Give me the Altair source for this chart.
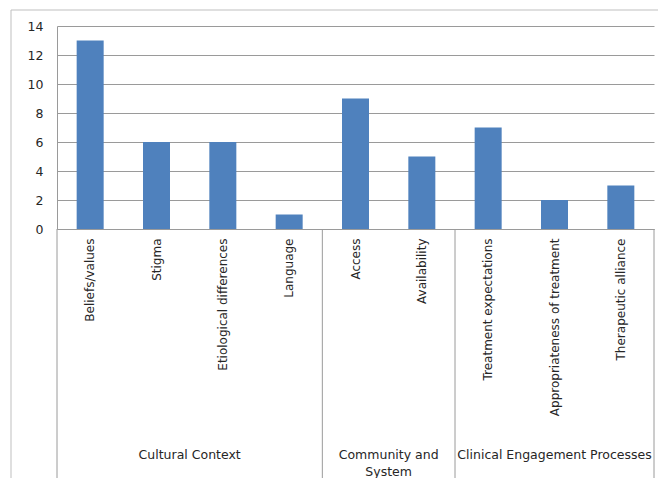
import altair as alt
import pandas as pd

categories = ["Beliefs/values", "Stigma", "Etiological differences", "Language",
              "Access", "Availability", "Treatment expectations",
              "Appropriateness of treatment", "Therapeutic alliance"]
values = [13, 6, 6, 1, 9, 5, 7, 2, 3]
groups = ["Cultural Context"] * 4 + ["Community and System"] * 2 + ["Clinical Engagement Processes"] * 3
y_ticks = [0, 2, 4, 6, 8, 10, 12, 14]

df = pd.DataFrame({"category": categories, "value": values, "group": groups})

W, H = 597, 203
FONT = "DejaVu Sans"
TXT = "#262626"
LINE = "#9A9A9A"

xenc = alt.X("category:N", sort=categories,
             scale=alt.Scale(paddingInner=0, paddingOuter=0),
             axis=alt.Axis(title=None, labelAngle=-90, ticks=False, labelPadding=9,
                           labelFont=FONT, labelFontSize=12, labelColor=TXT,
                           domainColor=LINE, labelLimit=300))

bars = alt.Chart(df).mark_bar(width=alt.RelativeBandSize(0.407), color="#4F81BD").encode(
    x=xenc,
    y=alt.Y("value:Q", scale=alt.Scale(domain=[0, 14]),
            axis=alt.Axis(title=None, values=y_ticks, ticks=False, labelPadding=14,
                          labelFont=FONT, labelFontSize=12.5, labelColor=TXT,
                          domainColor=LINE, gridColor=LINE, gridOpacity=1)),
)

def sep(cat, bp):
    d = pd.DataFrame({"category": [cat]})
    return alt.Chart(d).mark_rule(color=LINE, strokeWidth=1).encode(
        x=alt.X("category:N", sort=categories, bandPosition=bp),
        y=alt.value(H), y2=alt.value(H + 270))

def glabel(cat, bp, text):
    d = pd.DataFrame({"category": [cat]})
    return alt.Chart(d).mark_text(text=text, font=FONT, fontSize=12.5, color=TXT,
                                  baseline="top", align="center", lineHeight=17).encode(
        x=alt.X("category:N", sort=categories, bandPosition=bp),
        y=alt.value(H + 220))

frame = alt.Chart(pd.DataFrame({"category": [categories[0]]})).mark_rect(
    fill=None, stroke="#BFBFBF", strokeWidth=1).encode(
    x=alt.value(-46), x2=alt.value(W + 60), y=alt.value(-16), y2=alt.value(H + 300))

chart = alt.layer(
    bars,
    sep("Beliefs/values", 0), sep("Access", 0), sep("Treatment expectations", 0),
    sep("Therapeutic alliance", 1),
    glabel("Stigma", 1, "Cultural Context"),
    glabel("Access", 1, ["Community and", "System"]),
    glabel("Appropriateness of treatment", 0.5, "Clinical Engagement Processes"),
    frame,
).properties(
    width=W, height=H,
    autosize=alt.AutoSizeParams(type="none"),
    padding={"left": 57, "top": 26, "right": 4, "bottom": 249},
    background="white",
).configure_view(stroke=None)

chart.save("out.html", embed_options={"renderer": "svg", "actions": False})
